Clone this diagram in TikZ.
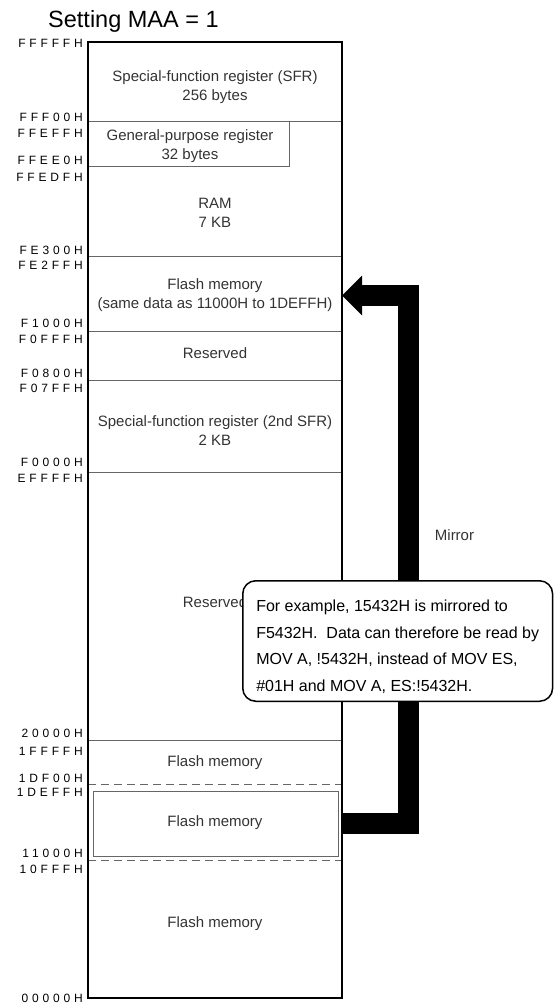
\documentclass[tikz,border=0pt]{standalone}
\usepackage{fontspec}
\setmainfont{Liberation Sans}
\newfontfamily\addrfont[LetterSpace=32]{Liberation Sans}
\usetikzlibrary{arrows.meta,calc}

\begin{document}
\begin{tikzpicture}[
  x=1pt, y=-1pt,
  frame/.style={draw=black, line width=1.5pt},
  divider/.style={draw=black!60, line width=1pt},
  addr/.style={anchor=east, inner sep=0pt, font=\addrfont\fontsize{12}{14}\selectfont},
  area/.style={align=center, inner sep=0pt, text=black!80, font=\fontsize{15}{19}\selectfont},
  region/.style={area, minimum width=254pt, outer sep=0pt},
  mirrorarrow/.style={line width=21pt, -{Triangle[length=20pt,width=40pt,line width=0pt]}},
  callout/.style={draw=black, line width=1.5pt, fill=white, rounded corners=13pt,
    align=left, inner xsep=13.5pt, inner ysep=0pt, minimum width=309pt,
    font=\fontsize{16}{26.7}\selectfont},
]
  \useasboundingbox (0,0) rectangle (557,1003);
  \def\xl{88}  % left edge of map
  \def\xr{342} % right edge of map

  % title
  \node[anchor=base west, inner sep=0pt, font=\fontsize{23.5}{28}\selectfont] (title)
    at (48,28) {Setting MAA = 1};

  % area borders
  \foreach \y in {122,256,331,380,472,740}
    \draw[divider] (\xl,\y) -- (\xr,\y);
  \draw[divider] (\xl,122) rectangle (289,167);
  \draw[divider, dash pattern=on 8pt off 5pt]
    (\xl,784) -- (\xr,784) (\xl,860) -- (\xr,860);
  \draw[divider, line width=0.8pt] (93,791) rectangle (338,856);
  \draw[frame] (\xl,42) rectangle (\xr,998);

  % addresses
  \foreach \y/\a in {43/FFFFFH, 117/FFF00H, 133/FFEFFH, 160/FFEE0H, 177/FFEDFH,
      250/FE300H, 265/FE2FFH, 323/F1000H, 339/F0FFFH, 373/F0800H, 388/F07FFH,
      462/F0000H, 478/EFFFFH, 733/20000H, 751/1FFFFH, 778/1DF00H, 792/1DEFFH,
      853/11000H, 869/10FFFH, 998/00000H}
    \node[addr] (a\a) at (83,\y) {\a};

  % area names
  \node[area] (sfr) at (215,87.5) {Special-function register (SFR)\\256 bytes};
  \node[area] (gpr) at (190,146.5) {General-purpose register\\32 bytes};
  \node[area] (ram) at (215,212.5) {RAM\\7 KB};
  \node[region, minimum height=75pt] (flashhi) at (215,295.5)
    {Flash memory\\(same data as 11000H to 1DEFFH)};
  \node[area] (rsv1) at (215,353) {Reserved};
  \node[area] (sfr2) at (215,430.5) {Special-function register (2nd SFR)\\2 KB};
  \node[area] (rsv2) at (215,602) {Reserved};
  \node[area] (flash1) at (215,763) {Flash memory};
  \node[region, minimum height=76pt] (flashlo) at (215,823) {Flash memory};
  \node[area] (flash0) at (215,924) {Flash memory};

  % mirror arrow
  \draw[mirrorarrow] (flashlo.east) -| ($(flashhi.east)+(66.5,0)$) -- (flashhi.east);
  \node[area] (mirror) at (454.5,535) {Mirror};

  % note
  \node[callout, anchor=north west] (note) at (242,580)
    {\rule{0pt}{30.7pt}For example, 15432H is mirrored to\\
     F5432H.\ \ Data can therefore be read by\\
     MOV A, !5432H, instead of MOV ES,\\
     \#01H and MOV A, ES:!5432H.\rule[-9.7pt]{0pt}{0pt}};
\end{tikzpicture}
\end{document}
